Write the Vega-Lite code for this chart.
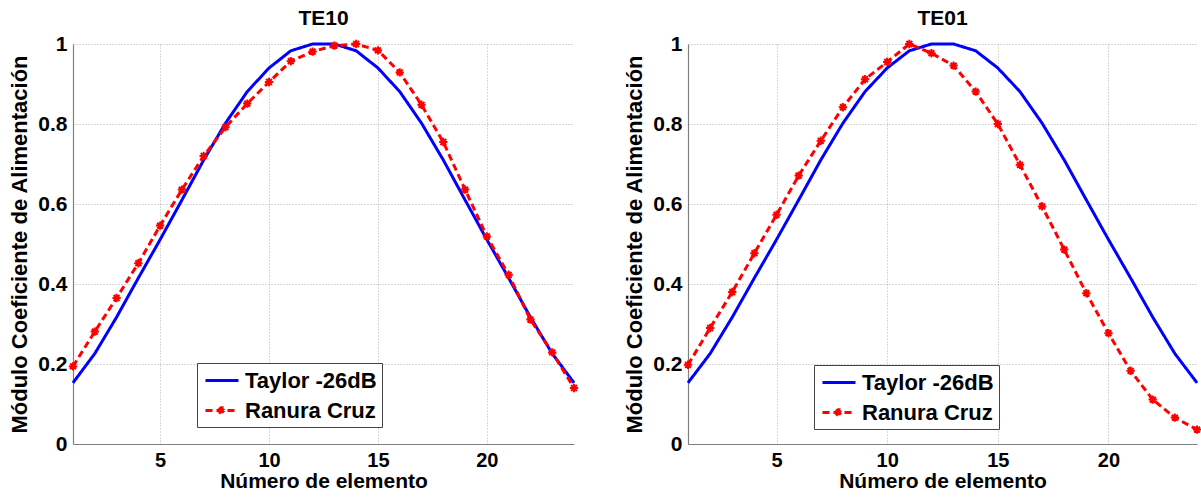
{
  "$schema": "https://vega.github.io/schema/vega-lite/v6.json",
  "background": "white",
  "padding": {"left": 8, "top": 8, "right": 5, "bottom": 2},
  "spacing": 40,
  "config": {
    "view": {"stroke": null},
    "font": "Liberation Sans",
    "title": {"font": "Liberation Sans", "fontSize": 21, "fontWeight": "bold", "color": "black", "offset": 4},
    "axis": {
      "labelFont": "Liberation Sans", "labelFontSize": 21, "labelFontWeight": "bold", "labelColor": "black",
      "titleFont": "Liberation Sans", "titleFontSize": 22, "titleFontWeight": "bold", "titleColor": "black",
      "domainColor": "#808080", "domainWidth": 1.2, "ticks": false,
      "gridColor": "#b0b0b0", "gridDash": [1, 2], "gridWidth": 1, "labelPadding": 6
    },
    "axisX": {"labelFontSize": 20, "titleFontSize": 21, "labelPadding": 6, "titlePadding": 0},
    "legend": {
      "orient": "none", "labelFont": "Liberation Sans", "labelFontSize": 22, "labelFontWeight": "bold", "labelColor": "black",
      "symbolType": "M-0.82,0L2.18,0", "symbolSize": 484, "symbolStrokeWidth": 3, "rowPadding": 6,
      "strokeColor": "#444", "fillColor": "white", "padding": 5, "labelOffset": 18, "title": null
    }
  },
  "datasets": {
    "te10": [
      {"x": 1, "series": "Taylor -26dB", "y": 0.153}, {"x": 2, "series": "Taylor -26dB", "y": 0.226}, {"x": 3, "series": "Taylor -26dB", "y": 0.317}, {"x": 4, "series": "Taylor -26dB", "y": 0.415}, {"x": 5, "series": "Taylor -26dB", "y": 0.511}, {"x": 6, "series": "Taylor -26dB", "y": 0.61}, {"x": 7, "series": "Taylor -26dB", "y": 0.71}, {"x": 8, "series": "Taylor -26dB", "y": 0.802}, {"x": 9, "series": "Taylor -26dB", "y": 0.881}, {"x": 10, "series": "Taylor -26dB", "y": 0.94}, {"x": 11, "series": "Taylor -26dB", "y": 0.983}, {"x": 12, "series": "Taylor -26dB", "y": 1.0},
      {"x": 13, "series": "Taylor -26dB", "y": 1.0}, {"x": 14, "series": "Taylor -26dB", "y": 0.983}, {"x": 15, "series": "Taylor -26dB", "y": 0.94}, {"x": 16, "series": "Taylor -26dB", "y": 0.881}, {"x": 17, "series": "Taylor -26dB", "y": 0.802}, {"x": 18, "series": "Taylor -26dB", "y": 0.71}, {"x": 19, "series": "Taylor -26dB", "y": 0.61}, {"x": 20, "series": "Taylor -26dB", "y": 0.511}, {"x": 21, "series": "Taylor -26dB", "y": 0.415}, {"x": 22, "series": "Taylor -26dB", "y": 0.317}, {"x": 23, "series": "Taylor -26dB", "y": 0.226}, {"x": 24, "series": "Taylor -26dB", "y": 0.153},
      {"x": 1, "series": "Ranura Cruz", "y": 0.194}, {"x": 2, "series": "Ranura Cruz", "y": 0.281}, {"x": 3, "series": "Ranura Cruz", "y": 0.365}, {"x": 4, "series": "Ranura Cruz", "y": 0.452}, {"x": 5, "series": "Ranura Cruz", "y": 0.546}, {"x": 6, "series": "Ranura Cruz", "y": 0.636}, {"x": 7, "series": "Ranura Cruz", "y": 0.72}, {"x": 8, "series": "Ranura Cruz", "y": 0.792}, {"x": 9, "series": "Ranura Cruz", "y": 0.851}, {"x": 10, "series": "Ranura Cruz", "y": 0.905}, {"x": 11, "series": "Ranura Cruz", "y": 0.957}, {"x": 12, "series": "Ranura Cruz", "y": 0.981},
      {"x": 13, "series": "Ranura Cruz", "y": 0.996}, {"x": 14, "series": "Ranura Cruz", "y": 1.0}, {"x": 15, "series": "Ranura Cruz", "y": 0.984}, {"x": 16, "series": "Ranura Cruz", "y": 0.929}, {"x": 17, "series": "Ranura Cruz", "y": 0.848}, {"x": 18, "series": "Ranura Cruz", "y": 0.755}, {"x": 19, "series": "Ranura Cruz", "y": 0.636}, {"x": 20, "series": "Ranura Cruz", "y": 0.519}, {"x": 21, "series": "Ranura Cruz", "y": 0.423}, {"x": 22, "series": "Ranura Cruz", "y": 0.311}, {"x": 23, "series": "Ranura Cruz", "y": 0.229}, {"x": 24, "series": "Ranura Cruz", "y": 0.14}
    ],
    "te01": [
      {"x": 1, "series": "Taylor -26dB", "y": 0.153}, {"x": 2, "series": "Taylor -26dB", "y": 0.226}, {"x": 3, "series": "Taylor -26dB", "y": 0.317}, {"x": 4, "series": "Taylor -26dB", "y": 0.415}, {"x": 5, "series": "Taylor -26dB", "y": 0.511}, {"x": 6, "series": "Taylor -26dB", "y": 0.61}, {"x": 7, "series": "Taylor -26dB", "y": 0.71}, {"x": 8, "series": "Taylor -26dB", "y": 0.802}, {"x": 9, "series": "Taylor -26dB", "y": 0.881}, {"x": 10, "series": "Taylor -26dB", "y": 0.94}, {"x": 11, "series": "Taylor -26dB", "y": 0.983}, {"x": 12, "series": "Taylor -26dB", "y": 1.0},
      {"x": 13, "series": "Taylor -26dB", "y": 1.0}, {"x": 14, "series": "Taylor -26dB", "y": 0.983}, {"x": 15, "series": "Taylor -26dB", "y": 0.94}, {"x": 16, "series": "Taylor -26dB", "y": 0.881}, {"x": 17, "series": "Taylor -26dB", "y": 0.802}, {"x": 18, "series": "Taylor -26dB", "y": 0.71}, {"x": 19, "series": "Taylor -26dB", "y": 0.61}, {"x": 20, "series": "Taylor -26dB", "y": 0.511}, {"x": 21, "series": "Taylor -26dB", "y": 0.415}, {"x": 22, "series": "Taylor -26dB", "y": 0.317}, {"x": 23, "series": "Taylor -26dB", "y": 0.226}, {"x": 24, "series": "Taylor -26dB", "y": 0.153},
      {"x": 1, "series": "Ranura Cruz", "y": 0.198}, {"x": 2, "series": "Ranura Cruz", "y": 0.29}, {"x": 3, "series": "Ranura Cruz", "y": 0.38}, {"x": 4, "series": "Ranura Cruz", "y": 0.477}, {"x": 5, "series": "Ranura Cruz", "y": 0.573}, {"x": 6, "series": "Ranura Cruz", "y": 0.671}, {"x": 7, "series": "Ranura Cruz", "y": 0.758}, {"x": 8, "series": "Ranura Cruz", "y": 0.842}, {"x": 9, "series": "Ranura Cruz", "y": 0.912}, {"x": 10, "series": "Ranura Cruz", "y": 0.955}, {"x": 11, "series": "Ranura Cruz", "y": 1.0}, {"x": 12, "series": "Ranura Cruz", "y": 0.977},
      {"x": 13, "series": "Ranura Cruz", "y": 0.946}, {"x": 14, "series": "Ranura Cruz", "y": 0.881}, {"x": 15, "series": "Ranura Cruz", "y": 0.8}, {"x": 16, "series": "Ranura Cruz", "y": 0.698}, {"x": 17, "series": "Ranura Cruz", "y": 0.594}, {"x": 18, "series": "Ranura Cruz", "y": 0.486}, {"x": 19, "series": "Ranura Cruz", "y": 0.377}, {"x": 20, "series": "Ranura Cruz", "y": 0.277}, {"x": 21, "series": "Ranura Cruz", "y": 0.183}, {"x": 22, "series": "Ranura Cruz", "y": 0.111}, {"x": 23, "series": "Ranura Cruz", "y": 0.066}, {"x": 24, "series": "Ranura Cruz", "y": 0.036}
    ]
  },
  "resolve": {"scale": {"color": "independent", "strokeDash": "independent"}, "legend": {"color": "independent", "strokeDash": "independent"}},
  "hconcat": [
    {
      "title": "TE10",
      "width": 501, "height": 400,
      "data": {"name": "te10"},
      "layer": [
        {
          "mark": {"type": "line", "strokeWidth": 3},
          "encoding": {
            "x": {"field": "x", "type": "quantitative", "scale": {"domain": [1, 24], "nice": false, "zero": false}, "axis": {"values": [5, 10, 15, 20], "title": "Número de elemento"}},
            "y": {"field": "y", "type": "quantitative", "scale": {"domain": [0, 1], "nice": false}, "axis": {"values": [0, 0.2, 0.4, 0.6, 0.8, 1], "format": "~g", "title": "Módulo Coeficiente de Alimentación", "titlePadding": 6}},
            "color": {"field": "series", "type": "nominal", "scale": {"domain": ["Taylor -26dB", "Ranura Cruz"], "range": ["#0000ff", "#ff0000"]}, "legend": {"legendX": 124, "legendY": 319, "encode": {"symbols": {"update": {"shape": {"signal": "datum.value === 'Ranura Cruz' ? 'M-0.82,0L2.18,0M0.68,-0.38L0.68,0.38M0.41,-0.27L0.95,0.27M0.41,0.27L0.95,-0.27' : 'M-0.82,0L2.18,0'"}}}}}},
            "strokeDash": {"field": "series", "type": "nominal", "scale": {"domain": ["Taylor -26dB", "Ranura Cruz"], "range": [[1, 0], [7, 4]]}, "legend": {"legendX": 124, "legendY": 319, "encode": {"symbols": {"update": {"shape": {"signal": "datum.value === 'Ranura Cruz' ? 'M-0.82,0L2.18,0M0.68,-0.38L0.68,0.38M0.41,-0.27L0.95,0.27M0.41,0.27L0.95,-0.27' : 'M-0.82,0L2.18,0'"}}}}}}
          }
        },
        {
          "transform": [{"filter": "datum.series === 'Ranura Cruz'"}],
          "mark": {"type": "point", "shape": "M-1,0L1,0M0,-1L0,1M-0.7,-0.7L0.7,0.7M-0.7,0.7L0.7,-0.7", "filled": false, "stroke": "#ff0000", "strokeWidth": 2, "size": 70, "opacity": 1},
          "encoding": {
            "x": {"field": "x", "type": "quantitative"},
            "y": {"field": "y", "type": "quantitative"}
          }
        }
      ]
    },
    {
      "title": "TE01",
      "width": 509, "height": 400,
      "data": {"name": "te01"},
      "layer": [
        {
          "mark": {"type": "line", "strokeWidth": 3},
          "encoding": {
            "x": {"field": "x", "type": "quantitative", "scale": {"domain": [1, 24], "nice": false, "zero": false}, "axis": {"values": [5, 10, 15, 20], "title": "Número de elemento"}},
            "y": {"field": "y", "type": "quantitative", "scale": {"domain": [0, 1], "nice": false}, "axis": {"values": [0, 0.2, 0.4, 0.6, 0.8, 1], "format": "~g", "title": "Módulo Coeficiente de Alimentación", "titlePadding": 6}},
            "color": {"field": "series", "type": "nominal", "scale": {"domain": ["Taylor -26dB", "Ranura Cruz"], "range": ["#0000ff", "#ff0000"]}, "legend": {"legendX": 126, "legendY": 321, "encode": {"symbols": {"update": {"shape": {"signal": "datum.value === 'Ranura Cruz' ? 'M-0.82,0L2.18,0M0.68,-0.38L0.68,0.38M0.41,-0.27L0.95,0.27M0.41,0.27L0.95,-0.27' : 'M-0.82,0L2.18,0'"}}}}}},
            "strokeDash": {"field": "series", "type": "nominal", "scale": {"domain": ["Taylor -26dB", "Ranura Cruz"], "range": [[1, 0], [7, 4]]}, "legend": {"legendX": 126, "legendY": 321, "encode": {"symbols": {"update": {"shape": {"signal": "datum.value === 'Ranura Cruz' ? 'M-0.82,0L2.18,0M0.68,-0.38L0.68,0.38M0.41,-0.27L0.95,0.27M0.41,0.27L0.95,-0.27' : 'M-0.82,0L2.18,0'"}}}}}}
          }
        },
        {
          "transform": [{"filter": "datum.series === 'Ranura Cruz'"}],
          "mark": {"type": "point", "shape": "M-1,0L1,0M0,-1L0,1M-0.7,-0.7L0.7,0.7M-0.7,0.7L0.7,-0.7", "filled": false, "stroke": "#ff0000", "strokeWidth": 2, "size": 70, "opacity": 1},
          "encoding": {
            "x": {"field": "x", "type": "quantitative"},
            "y": {"field": "y", "type": "quantitative"}
          }
        }
      ]
    }
  ]
}
